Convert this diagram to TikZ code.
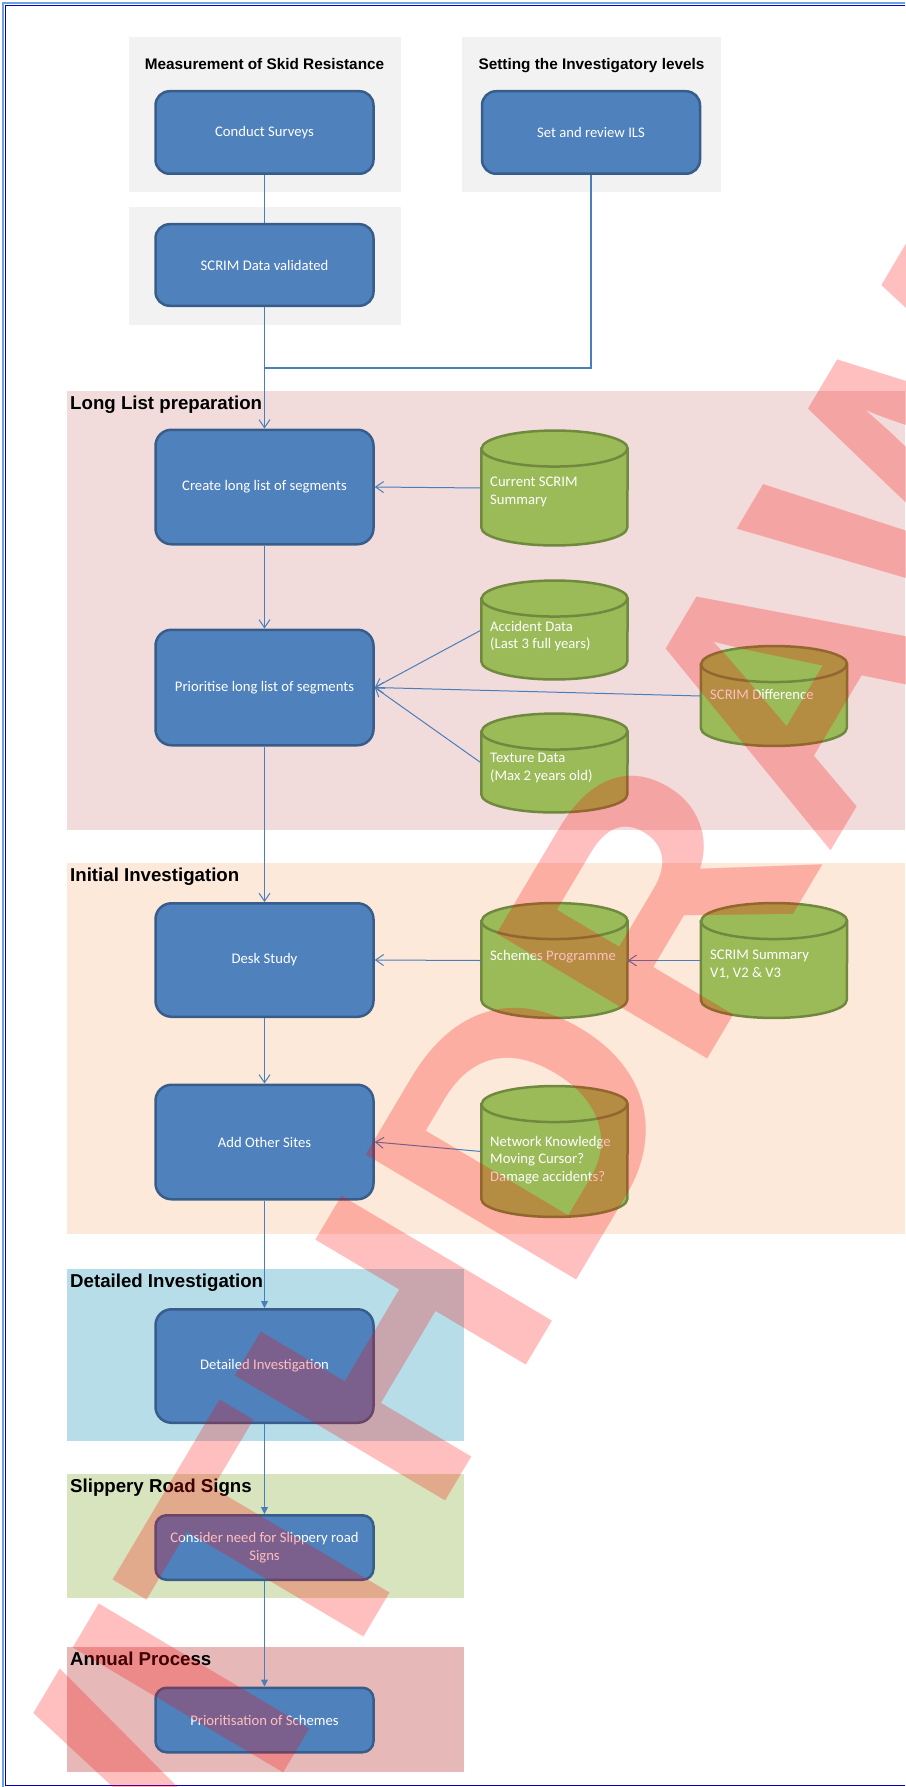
\documentclass[tikz,border=0pt]{standalone}
\usepackage{fontspec}
\setmainfont{Carlito}
\newfontfamily\arialfont{Liberation Sans}
\usetikzlibrary{arrows.meta,calc}
\definecolor{boxfill}{HTML}{4F81BD}
\definecolor{boxline}{HTML}{385D8A}
\definecolor{cylfill}{HTML}{9BBB59}
\definecolor{cylline}{HTML}{71893F}
\definecolor{connblue}{HTML}{4A7EBB}
\definecolor{graybg}{HTML}{F2F2F2}
\definecolor{llbg}{HTML}{F2DCDB}
\definecolor{iibg}{HTML}{FDE9D9}
\definecolor{dibg}{HTML}{B7DDE8}
\definecolor{srbg}{HTML}{D7E4BD}
\definecolor{apbg}{HTML}{E6B9B8}
\definecolor{frameA}{HTML}{6FA3D8}
\definecolor{frameB}{HTML}{0000C8}
\newcommand{\drawcyl}[1]{%
  \filldraw[fill=cylfill, draw=cylline, line width=2.5pt]
    ($(#1.north west)+(0,-18)$) -- ($(#1.south west)+(0,18)$)
    arc[start angle=180,end angle=360,x radius=73pt,y radius=18pt]
    -- ($(#1.north east)+(0,-18)$)
    arc[start angle=0,end angle=180,x radius=73pt,y radius=18pt] -- cycle;
  \draw[cylline, line width=2.5pt] ($(#1.north west)+(0,-18)$)
    arc[start angle=180,end angle=360,x radius=73pt,y radius=18pt];}
\tikzset{
  procbox/.style={draw=boxline, fill=boxfill, line width=2.5pt, rounded corners=16pt,
    minimum width=218pt, text=white, font=\fontsize{14.67}{17.6}\selectfont,
    align=center, inner sep=0pt},
  cylbox/.style={minimum width=146pt, inner sep=0pt, draw=none},
  cyltext/.style={anchor=west, text=white, font=\fontsize{14.67}{17.6}\selectfont,
    align=left, inner sep=0pt},
  sectitle/.style={anchor=base west, inner sep=0pt,
    font=\arialfont\bfseries\fontsize{18.67}{22}\selectfont},
  grptitle/.style={anchor=base, inner sep=0pt,
    font=\arialfont\bfseries\fontsize{15.33}{18}\selectfont},
  connline/.style={draw=connblue, line width=1pt},
  openarrow/.style={connline, -{Straight Barb[length=8pt,width=11pt]}},
  fillarrow/.style={connline, -{Triangle[length=7pt,width=7pt]}},
}
\begin{document}
\begin{tikzpicture}[x=1pt,y=1pt]
\useasboundingbox (0,0) rectangle (905,-1787);
\fill[white] (0,0) rectangle (905,-1787);
% frame
\draw[frameA, line width=2pt] (3,-1787) -- (3,-3) -- (905,-3);
\draw[frameB, line width=1.2pt] (5.5,-1785.5) -- (5.5,-5.5) -- (905,-5.5);
\draw[frameB, line width=1.2pt] (5.5,-1785.5) -- (905,-1785.5);
% group backgrounds
\fill[graybg] (129,-37) rectangle (401,-192);
\fill[graybg] (462,-37) rectangle (721,-192);
\fill[graybg] (129,-207) rectangle (401,-325);
\fill[llbg] (67,-391) rectangle (905,-830);
\fill[iibg] (67,-863) rectangle (905,-1234);
\fill[dibg] (67,-1269) rectangle (464,-1441);
\fill[srbg] (67,-1474) rectangle (464,-1598);
\fill[apbg] (67,-1647) rectangle (464,-1772);
% titles
\node[grptitle] (t1) at (264.5,-70) {Measurement of Skid Resistance};
\node[grptitle] (t2) at (591.5,-70) {Setting the Investigatory levels};
\node[sectitle] (s1) at (70,-409.5) {Long List preparation};
\node[sectitle] (s2) at (70,-881.5) {Initial Investigation};
\node[sectitle] (s3) at (70,-1287.5) {Detailed Investigation};
\node[sectitle] (s4) at (70,-1492.5) {Slippery Road Signs};
\node[sectitle] (s5) at (70,-1665.5) {Annual Process};
% process boxes
\node[procbox, minimum height=82.5pt, rounded corners=14pt] (cs) at (264.5,-132.5) {Conduct Surveys};
\node[procbox, minimum height=82.5pt, rounded corners=14pt] (ils) at (591,-132.5) {Set and review ILS};
\node[procbox, minimum height=81.5pt, rounded corners=14pt] (val) at (264.5,-265) {SCRIM Data validated};
\node[procbox, minimum height=114.5pt] (create) at (264.5,-487) {Create long list of segments};
\node[procbox, minimum height=115.5pt] (prio) at (264.5,-687.5) {Prioritise long list of segments};
\node[procbox, minimum height=113.5pt] (desk) at (264.5,-960) {Desk Study};
\node[procbox, minimum height=114.5pt] (add) at (264.5,-1142) {Add Other Sites};
\node[procbox, minimum height=113.5pt] (det) at (264.5,-1366) {Detailed Investigation};
\node[procbox, minimum height=64.5pt, rounded corners=11pt] (cons) at (264.5,-1547.5) {Consider need for Slippery road\\Signs};
\node[procbox, minimum height=64.5pt, rounded corners=11pt] (pos) at (264.5,-1720) {Prioritisation of Schemes};
% data stores
\node[cylbox, minimum height=114.5pt] (cur) at (554.5,-488) {};
\node[cylbox, minimum height=98.5pt] (acc) at (554.5,-630) {};
\node[cylbox, minimum height=99.5pt] (diff) at (774,-696) {};
\node[cylbox, minimum height=98.5pt] (tex) at (554.5,-763) {};
\node[cylbox, minimum height=114.5pt] (sch) at (554.5,-960.5) {};
\node[cylbox, minimum height=114.5pt] (sum) at (774,-960.5) {};
\node[cylbox, minimum height=130.5pt] (net) at (554.5,-1151.5) {};
\drawcyl{cur}\drawcyl{acc}\drawcyl{diff}\drawcyl{tex}
\drawcyl{sch}\drawcyl{sum}\drawcyl{net}
\node[cyltext] (curT) at (490,-492) {Current SCRIM\\Summary};
\node[cyltext] (accT) at (490,-636) {Accident Data\\(Last 3 full years)};
\node[cyltext] (diffT) at (710,-694) {SCRIM Difference};
\node[cyltext] (texT) at (490,-768) {Texture Data\\(Max 2 years old)};
\node[cyltext] (schT) at (490,-957) {Schemes Programme};
\node[cyltext] (sumT) at (710,-964.5) {SCRIM Summary\\V1, V2 \& V3};
\node[cyltext] (netT) at (490,-1160) {Network Knowledge\\Moving Cursor?\\Damage accidents?};
% connectors
\coordinate (j) at (val.south |- 0,-368);
\draw[connline] (cs.south) -- (val.north);
\draw[connline, line width=1.3pt] (ils.south) |- (j);
\draw[openarrow] (val.south) -- (create.north);
\draw[openarrow] (cur.west) -- (create.east);
\draw[openarrow] (create.south) -- (prio.north);
\draw[openarrow] (acc.west) -- (prio.east);
\draw[openarrow] (diff.west) -- (prio.east);
\draw[openarrow] (tex.west) -- (prio.east);
\draw[openarrow] (prio.south) -- (desk.north);
\draw[openarrow] (sch.west) -- (desk.east);
\draw[openarrow] (sum.west) -- (sch.east);
\draw[openarrow] (desk.south) -- (add.north);
\draw[openarrow] (net.west) -- (add.east);
\draw[fillarrow] (add.south) -- (det.north);
\draw[fillarrow] (det.south) -- (cons.north);
\draw[fillarrow] (cons.south) -- (pos.north);
% watermark
\begin{scope}
\clip (0,0) rectangle (905,-1787);
\node[rotate=59.3, transform shape, scale=3.56, text=red, text opacity=0.25,
  inner sep=0pt, font=\arialfont\bfseries\fontsize{100}{100}\selectfont] (wm) at (570,-1051) {WITHDRAWN};
\end{scope}
\end{tikzpicture}
\end{document}
